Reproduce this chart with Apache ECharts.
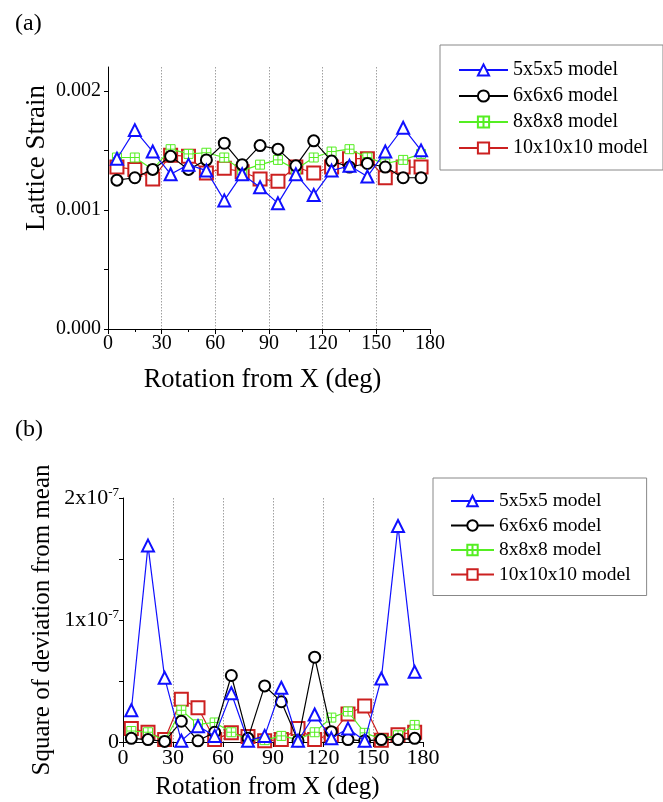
<!DOCTYPE html>
<html>
<head>
<meta charset="utf-8">
<script src="https://cdn.jsdelivr.net/npm/echarts@6/dist/echarts.min.js"></script>
<style>
  html, body { margin: 0; padding: 0; background: #fff; }
  #chart { width: 663px; height: 802px; }
</style>
</head>
<body>
<div id="chart"></div>
<script>
// ---- data ----
const seriesNames = ['5x5x5 model', '6x6x6 model', '8x8x8 model', '10x10x10 model'];
const angles = [5, 15, 25, 35, 45, 55, 65, 75, 85, 95, 105, 115, 125, 135, 145, 155, 165, 175];
const xTicks = [0, 30, 60, 90, 120, 150, 180];

// (a) lattice strain
const strain5  = [0.00143, 0.00167, 0.00149, 0.00130, 0.00138, 0.00133, 0.00108, 0.00130, 0.00119, 0.001055, 0.00130, 0.001125, 0.00133, 0.00137, 0.00128, 0.00149, 0.00169, 0.00150];
const strain6  = [0.00125, 0.00127, 0.00134, 0.00145, 0.00134, 0.00142, 0.00156, 0.00138, 0.00154, 0.00151, 0.00137, 0.00158, 0.00141, 0.00136, 0.00139, 0.00136, 0.00127, 0.00127];
const strain8  = [0.00144, 0.00144, 0.00134, 0.00151, 0.00147, 0.00148, 0.00144, 0.00133, 0.00138, 0.00142, 0.00134, 0.00144, 0.00149, 0.00151, 0.00144, 0.00139, 0.00142, 0.00147];
const strain10 = [0.00136, 0.00134, 0.00126, 0.00146, 0.00145, 0.00131, 0.00135, 0.00132, 0.00126, 0.00124, 0.00136, 0.00131, 0.00136, 0.00143, 0.00143, 0.00127, 0.00136, 0.00136];
const strainLabels = [0, 0.001, 0.002];
const strainTicks = [0, 0.0005, 0.001, 0.0015, 0.002];

// (b) square of deviation from mean
const dev5  = [2.6e-8, 16.1e-8, 5.26e-8, 0.1e-8, 1.3e-8, 0.5e-8, 4.0e-8, 0.1e-8, 0.5e-8, 4.45e-8, 0.1e-8, 2.25e-8, 0.3e-8, 1.1e-8, 0.1e-8, 5.2e-8, 17.7e-8, 5.75e-8];
const dev6  = [0.3e-8, 0.2e-8, 0.05e-8, 1.7e-8, 0.1e-8, 0.8e-8, 5.45e-8, 0.3e-8, 4.6e-8, 3.3e-8, 0.1e-8, 6.95e-8, 0.85e-8, 0.2e-8, 0.1e-8, 0.2e-8, 0.2e-8, 0.3e-8];
const dev8  = [0.9e-8, 0.8e-8, 0.1e-8, 2.6e-8, 1.45e-8, 1.6e-8, 0.8e-8, 0.2e-8, 0.15e-8, 0.5e-8, 0.2e-8, 0.8e-8, 2.0e-8, 2.5e-8, 0.75e-8, 0.25e-8, 0.55e-8, 1.4e-8];
const dev10 = [1.1e-8, 0.8e-8, 0.2e-8, 3.5e-8, 2.8e-8, 0.2e-8, 0.75e-8, 0.45e-8, 0.1e-8, 0.2e-8, 1.1e-8, 0.2e-8, 0.6e-8, 2.3e-8, 2.95e-8, 0.15e-8, 0.6e-8, 0.8e-8];

// ---- styles ----
const FONT = 'Liberation Serif';
const colors = ['#1010ff', '#000000', '#55ee22', '#cc2020'];
const plusSquare = 'path://M0,0H10V10H0ZM5,0V10M0,5H10';
const symbols = ['emptyTriangle', 'emptyCircle', plusSquare, 'emptyRect'];
const sizesA = [12, 11, 9, 13];
const sizesB = [12, 11, 9, 13];

function pair(arr) { return angles.map((a, i) => [a, arr[i]]); }

function makeSeries(dataArrs, axisIdx, sizes) {
  return dataArrs.map((arr, k) => ({
    name: seriesNames[k],
    type: 'line',
    xAxisIndex: axisIdx,
    yAxisIndex: axisIdx,
    data: pair(arr),
    symbol: symbols[k],
    symbolSize: sizes[k],
    showAllSymbol: true,
    color: colors[k],
    lineStyle: { color: colors[k], width: 1.2 },
    itemStyle: k === 2
      ? { color: '#ffffff', borderColor: colors[k], borderWidth: 1 }
      : { color: colors[k], borderWidth: 1.2 },
    z: 10 - k
  }));
}

function xAxisCfg(gridIndex, labelSize, nameSize, nameGap, namePadRight) {
  return {
    type: 'value', gridIndex, min: 0, max: 180, interval: 30,
    name: 'Rotation from X (deg)', nameLocation: 'middle', nameGap,
    nameTextStyle: { fontFamily: FONT, fontSize: nameSize, color: '#000', padding: [0, namePadRight, 0, 0] },
    axisLine: { show: true, onZero: false, lineStyle: { color: '#000', width: 1 } },
    axisTick: { show: true, inside: false, length: 5, lineStyle: { color: '#000' } },
    minorTick: { show: true, splitNumber: 2, length: 3, lineStyle: { color: '#000' } },
    axisLabel: { fontFamily: FONT, fontSize: labelSize, color: '#000', margin: 5,
                 customValues: xTicks },
    splitLine: { show: true, showMinLine: false, showMaxLine: false,
                 lineStyle: { type: [1.5, 1.5], color: '#a0a0a0', width: 1 } }
  };
}

const option = {
  animation: false,
  backgroundColor: '#fff',
  title: [
    { text: '(a)', left: 10, top: 7, textStyle: { fontFamily: FONT, fontSize: 24, fontWeight: 'normal', color: '#000' } },
    { text: '(b)', left: 10, top: 413, textStyle: { fontFamily: FONT, fontSize: 24, fontWeight: 'normal', color: '#000' } }
  ],
  grid: [
    { left: 108, top: 67, width: 322, height: 262 },
    { left: 123, top: 498, width: 300, height: 244 }
  ],
  legend: [
    {
      data: seriesNames, left: 440, top: 45, orient: 'vertical',
      itemWidth: 49, itemHeight: 14, itemGap: 6,
      padding: [15, 15, 12, 18],
      borderColor: '#888', borderWidth: 1, backgroundColor: '#fff',
      textStyle: { fontFamily: FONT, fontSize: 20, color: '#000' },
      selectedMode: false
    },
    {
      data: seriesNames, left: 433, top: 478, orient: 'vertical',
      itemWidth: 43, itemHeight: 13, itemGap: 4.5,
      padding: [13, 16, 11, 17],
      borderColor: '#888', borderWidth: 1, backgroundColor: '#fff',
      textStyle: { fontFamily: FONT, fontSize: 19.5, color: '#000' },
      selectedMode: false
    }
  ],
  xAxis: [
    xAxisCfg(0, 20, 26.5, 38, 13),
    xAxisCfg(1, 22, 25, 33, 11)
  ],
  yAxis: [
    {
      type: 'value', gridIndex: 0, min: 0, max: 0.0022, interval: 0.001,
      name: 'Lattice Strain', nameLocation: 'middle', nameGap: 58,
      nameTextStyle: { fontFamily: FONT, fontSize: 27, color: '#000', padding: [0, 0, 0, 80] },
      axisLine: { show: true, lineStyle: { color: '#000', width: 1 } },
      axisTick: { show: true, length: 4, customValues: strainTicks, lineStyle: { color: '#000' } },
      axisLabel: { fontFamily: FONT, fontSize: 20, color: '#000', margin: 7,
                   customValues: strainLabels, formatter: v => v.toFixed(3) },
      splitLine: { show: false }
    },
    {
      type: 'value', gridIndex: 1, min: 0, max: 2e-7, interval: 1e-7,
      name: 'Square of deviation from mean', nameLocation: 'middle', nameGap: 68,
      nameTextStyle: { fontFamily: FONT, fontSize: 25, color: '#000' },
      axisLine: { show: true, lineStyle: { color: '#000', width: 1 } },
      axisTick: { show: true, length: 4, lineStyle: { color: '#000' } },
      minorTick: { show: true, splitNumber: 2, length: 4, lineStyle: { color: '#000' } },
      axisLabel: {
        fontFamily: FONT, fontSize: 22, color: '#000', margin: 4,
        formatter: v => v === 0 ? '0' : '{m|' + Math.round(v / 1e-7) + 'x10}{e|-7}',
        rich: {
          m: { fontFamily: FONT, fontSize: 22, color: '#000' },
          e: { fontFamily: FONT, fontSize: 13, color: '#000', padding: [0, 0, 10, 0] }
        }
      },
      splitLine: { show: false }
    }
  ],
  series: [
    ...makeSeries([strain5, strain6, strain8, strain10], 0, sizesA),
    ...makeSeries([dev5, dev6, dev8, dev10], 1, sizesB)
  ]
};

const chart = echarts.init(document.getElementById('chart'), null, { renderer: 'canvas' });
chart.setOption(option);
</script>
</body>
</html>
